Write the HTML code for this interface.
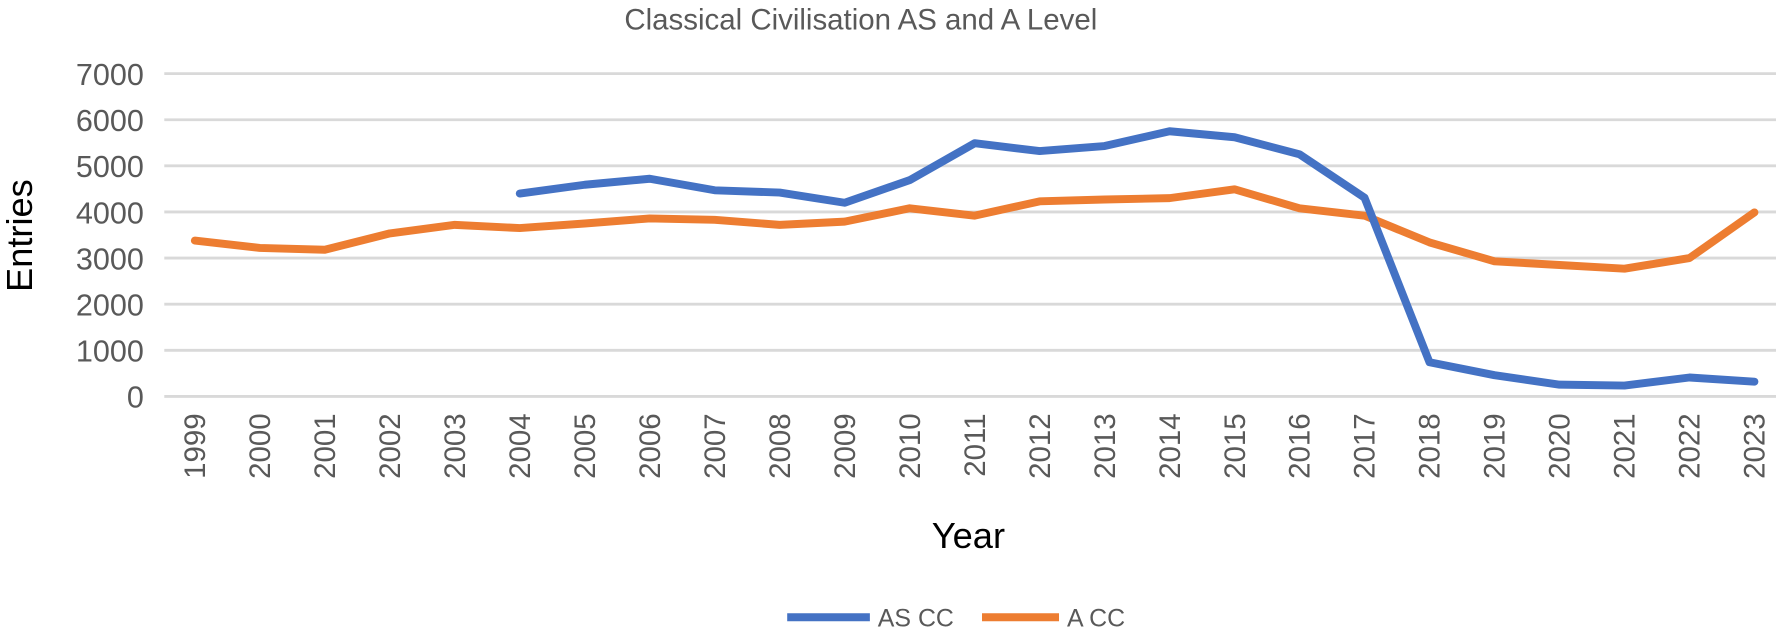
<!DOCTYPE html>
<html><head><meta charset="utf-8"><style>
body{margin:0;background:#fff;font-family:"Liberation Sans",sans-serif;overflow:hidden;}
svg{display:block;}
svg text{font-family:"Liberation Sans",sans-serif;fill:#595959;}
</style></head><body>
<svg id="chart" width="1776" height="627" viewBox="0 0 1568 553.6" xmlns="http://www.w3.org/2000/svg">
<text x="760" y="26" font-size="26" text-anchor="middle">Classical Civilisation AS and A Level</text>
<g id="grid"></g><g id="ylabels"></g><g id="xlabels"></g><g id="lines"></g>
<text transform="translate(28,208) rotate(-90)" font-size="32" text-anchor="middle" style="fill:#000">Entries</text>
<text x="855" y="484" font-size="32" text-anchor="middle" style="fill:#000">Year</text>
<g>
<line x1="695" y1="545" x2="768" y2="545" stroke="#4472C4" stroke-width="7"/>
<text x="775" y="553" font-size="22">AS CC</text>
<line x1="867" y1="545" x2="935" y2="545" stroke="#ED7D31" stroke-width="7"/>
<text x="942" y="553" font-size="22">A CC</text>
</g>
</svg>
<script>
const years=[1999,2000,2001,2002,2003,2004,2005,2006,2007,2008,2009,2010,2011,2012,2013,2014,2015,2016,2017,2018,2019,2020,2021,2022,2023];
const asValues=[null,null,null,null,null,4400,4590,4720,4470,4420,4200,4690,5490,5320,5430,5750,5620,5250,4310,740,460,255,235,410,320];
const aValues=[3380,3220,3180,3535,3720,3650,3750,3860,3830,3720,3790,4080,3920,4230,4270,4300,4490,4080,3920,3340,2930,2850,2770,3000,3990];
const yTicks=[0,1000,2000,3000,4000,5000,6000,7000];
const NS="http://www.w3.org/2000/svg";
const x=i=>172+i*(1549-172)/24;
const y=v=>350-v*(350-65)/7000;
function mk(tag,parent,attrs){const e=document.createElementNS(NS,tag);for(const k in attrs)e.setAttribute(k,attrs[k]);parent.appendChild(e);return e;}
const grid=document.getElementById('grid'),yl=document.getElementById('ylabels'),xl=document.getElementById('xlabels'),ln=document.getElementById('lines');
yTicks.forEach(t=>{
 const g=mk('line',grid,{x1:145,x2:1575,y1:y(t),y2:y(t),stroke:'#d9d9d9','stroke-width':2.5});
 
 
 const tx=mk('text',yl,{x:127,y:y(t)+10,'font-size':27,'text-anchor':'end'});
 
 
 tx.textContent=t;
});
years.forEach((yr,i)=>{
 const tx=mk('text',xl,{transform:`translate(${x(i)+9},365) rotate(-90)`,'font-size':26,'text-anchor':'end'});
 
 
 tx.textContent=yr;
});
function path(vals,color,name){
 let d='';vals.forEach((v,i)=>{if(v==null)return;d+=(d?'L':'M')+x(i)+','+y(v);});
 const p=mk('path',ln,{d:d,fill:'none',stroke:color,'stroke-width':7,'stroke-linejoin':'round','stroke-linecap':'round'});
 
 
}
path(aValues,'#ED7D31','a-cc-line');
path(asValues,'#4472C4','as-cc-line');
</script>
</body></html>
